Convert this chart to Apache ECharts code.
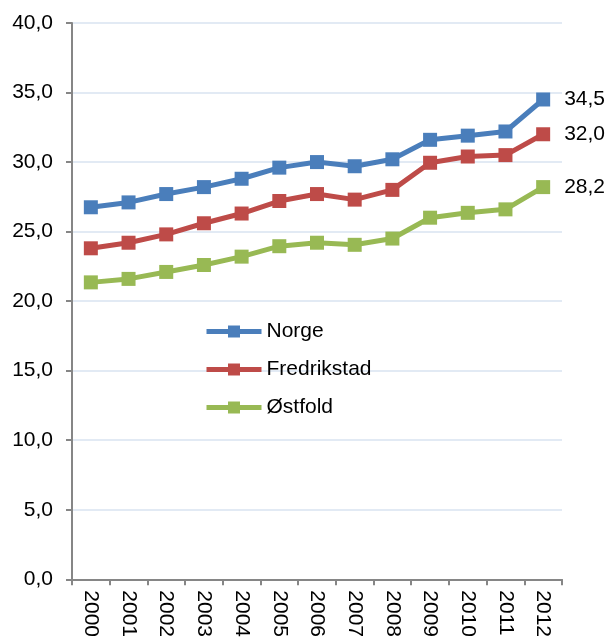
<!DOCTYPE html>
<html>
<head>
<meta charset="utf-8">
<script src="https://cdn.jsdelivr.net/npm/echarts@6/dist/echarts.min.js"></script>
<style>
  html, body { margin: 0; padding: 0; background: #fff; }
  #chart { width: 610px; height: 640px; }
</style>
</head>
<body>
<div id="chart"></div>
<script>
const years = ['2000','2001','2002','2003','2004','2005','2006','2007','2008','2009','2010','2011','2012'];
const norge = [26.75, 27.1, 27.7, 28.2, 28.8, 29.6, 30.0, 29.7, 30.2, 31.6, 31.9, 32.2, 34.5];
const fredrikstad = [23.8, 24.2, 24.8, 25.6, 26.3, 27.2, 27.7, 27.3, 28.0, 29.95, 30.4, 30.5, 32.0];
const ostfold = [21.35, 21.6, 22.1, 22.6, 23.2, 23.95, 24.2, 24.05, 24.5, 26.0, 26.35, 26.6, 28.2];
const yTicks = [0, 5, 10, 15, 20, 25, 30, 35, 40];

const fmt = v => v.toFixed(1).replace('.', ',');
const font = 'Liberation Sans, Arial, sans-serif';
const fontSize = 21;

function lineSeries(name, values, color) {
  const last = values.length - 1;
  return {
    name: name,
    type: 'line',
    data: values,
    symbol: 'rect',
    symbolSize: 14,
    lineStyle: { width: 5, color: color },
    itemStyle: { color: color },
    label: {
      show: true,
      position: 'right',
      distance: 14,
      color: '#000',
      fontFamily: font,
      fontSize: fontSize,
      formatter: p => p.dataIndex === last ? fmt(p.value) : ''
    },
    animation: false
  };
}

const chart = echarts.init(document.getElementById('chart'), null, { renderer: 'canvas' });
chart.setOption({
  backgroundColor: '#fff',
  animation: false,
  grid: { left: 72, right: 48, top: 23, bottom: 59, containLabel: false },
  legend: {
    orient: 'vertical',
    left: 199,
    top: 316,
    itemWidth: 55,
    itemHeight: 15,
    itemGap: 17,
    lineStyle: { width: 5 },
    textStyle: { fontFamily: font, fontSize: fontSize, color: '#000', lineHeight: 21 },
    data: ['Norge', 'Fredrikstad', 'Østfold']
  },
  xAxis: {
    type: 'category',
    data: years,
    boundaryGap: true,
    axisLine: { lineStyle: { color: '#868686', width: 2 } },
    axisTick: { show: true, length: 6, lineStyle: { color: '#868686', width: 2 } },
    axisLabel: { rotate: -90, margin: 11, fontFamily: font, fontSize: fontSize, color: '#000' },
    splitLine: { show: false }
  },
  yAxis: {
    type: 'value',
    min: yTicks[0],
    max: yTicks[yTicks.length - 1],
    interval: 5,
    axisLine: { show: true, lineStyle: { color: '#868686', width: 2 } },
    axisTick: { show: true, length: 6, lineStyle: { color: '#868686', width: 2 } },
    axisLabel: { margin: 19, fontFamily: font, fontSize: fontSize, color: '#000', formatter: v => fmt(v) },
    splitLine: { show: true, lineStyle: { color: '#d9e3f1', width: 1.5 } }
  },
  series: [
    lineSeries('Norge', norge, '#4a7ebb'),
    lineSeries('Fredrikstad', fredrikstad, '#be4b48'),
    lineSeries('Østfold', ostfold, '#98b954')
  ]
});
</script>
</body>
</html>
